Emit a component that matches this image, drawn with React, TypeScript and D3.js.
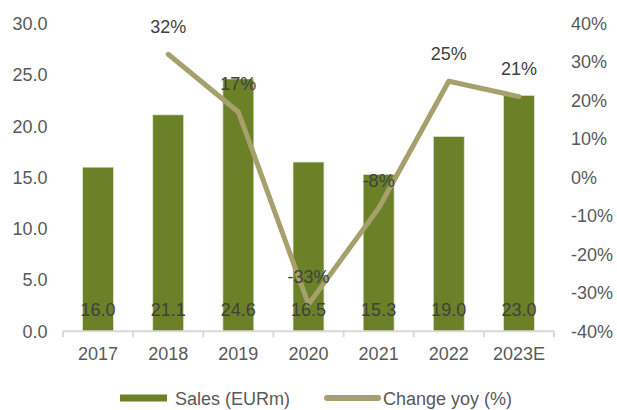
import React from "react";
import * as d3 from "d3";

const categories = ["2017", "2018", "2019", "2020", "2021", "2022", "2023E"];
const sales = [16.0, 21.1, 24.6, 16.5, 15.3, 19.0, 23.0];
const changeCats = ["2018", "2019", "2020", "2021", "2022", "2023E"];
const changeYoy = [32, 17, -33, -8, 25, 21];
const leftTicks = [0, 5, 10, 15, 20, 25, 30];
const rightTicks = [-40, -30, -20, -10, 0, 10, 20, 30, 40];

const W = 617;
const H = 410;
const left = 63;
const right = 554;
const top = 23.5;
const bottom = 331.3;

const BAR = "#6B8027";
const LINE = "#A6A06C";
const AXIS_TXT = "#595959";
const LBL_TXT = "#404040";
const FONT = "'Liberation Sans', Arial, sans-serif";

export default function App() {
  const x = d3
    .scaleBand<string>()
    .domain(categories)
    .range([left, right])
    .paddingInner(0.558)
    .paddingOuter(0.279);
  const step = (right - left) / categories.length;
  const y = d3.scaleLinear().domain([0, 30]).range([bottom, top]);
  const yR = d3.scaleLinear().domain([-40, 40]).range([bottom, top]);
  const cx = (c: string) => (x(c) as number) + x.bandwidth() / 2;

  const line = d3
    .line<number>()
    .x((_, i) => cx(changeCats[i]))
    .y((d) => yR(d));

  return (
    <svg
      width={W}
      height={H}
      style={{ position: "absolute", left: 0, top: 0, background: "#fff" }}
      fontFamily={FONT}
      fontSize={18}
    >
      {/* bars */}
      {sales.map((v, i) => (
        <rect
          key={categories[i]}
          x={x(categories[i])}
          y={y(v)}
          width={x.bandwidth()}
          height={y(0) - y(v)}
          fill={BAR}
          stroke="#E6EAD6"
          strokeWidth={0.8}
        />
      ))}
      {/* x axis */}
      <line x1={left} x2={right} y1={bottom} y2={bottom} stroke="#D9D9D9" strokeWidth={2} />
      {d3.range(categories.length + 1).map((i) => (
        <line
          key={"t" + i}
          x1={left + i * step}
          x2={left + i * step}
          y1={bottom}
          y2={bottom + 6}
          stroke="#D9D9D9"
          strokeWidth={2}
        />
      ))}
      {categories.map((c) => (
        <text key={"xl" + c} x={cx(c)} y={360} textAnchor="middle" fill={AXIS_TXT}>
          {c}
        </text>
      ))}
      {/* left axis labels */}
      {leftTicks.map((t) => (
        <text key={"yl" + t} x={47.5} y={y(t) + 6.4} textAnchor="end" fill={AXIS_TXT}>
          {d3.format(".1f")(t)}
        </text>
      ))}
      {/* right axis labels */}
      {rightTicks.map((t) => (
        <text key={"yr" + t} x={571} y={yR(t) + 6.4} textAnchor="start" fill={AXIS_TXT}>
          {t + "%"}
        </text>
      ))}
      {/* line */}
      <path
        d={line(changeYoy) || ""}
        fill="none"
        stroke={LINE}
        strokeWidth={5}
        strokeLinejoin="round"
        strokeLinecap="round"
      />
      {/* bar labels */}
      {sales.map((v, i) => (
        <text key={"bl" + i} x={cx(categories[i])} y={315.5} textAnchor="middle" fill={LBL_TXT}>
          {d3.format(".1f")(v)}
        </text>
      ))}
      {/* percent labels */}
      {changeYoy.map((v, i) => (
        <text
          key={"pl" + i}
          x={cx(changeCats[i])}
          y={yR(v) - 21.6}
          textAnchor="middle"
          fill={LBL_TXT}
        >
          {v + "%"}
        </text>
      ))}
      {/* legend */}
      <rect x={120} y={394.5} width={47} height={7} fill={BAR} />
      <text x={175} y={404.5} fill={AXIS_TXT}>
        Sales (EURm)
      </text>
      <line
        x1={327}
        x2={378}
        y1={398}
        y2={398}
        stroke={LINE}
        strokeWidth={6}
        strokeLinecap="round"
      />
      <text x={383} y={404.5} fill={AXIS_TXT}>
        Change yoy (%)
      </text>
    </svg>
  );
}
